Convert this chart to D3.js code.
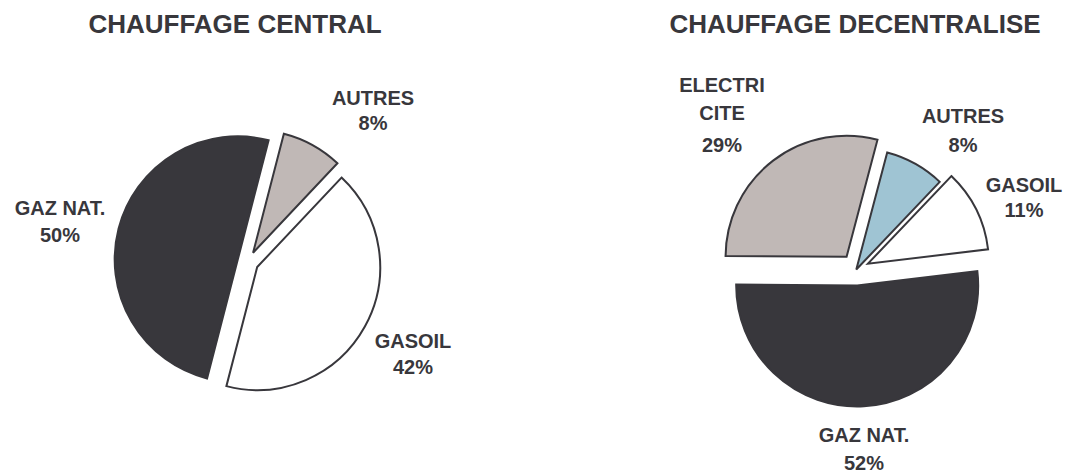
<!DOCTYPE html>
<html>
<head>
<meta charset="utf-8">
<script src="https://cdn.jsdelivr.net/npm/d3@7"></script>
<style>
  html, body { margin: 0; padding: 0; background: #ffffff; }
  svg { display: block; }
  text { font-family: "Liberation Sans", Arial, sans-serif; font-weight: bold; fill: #38373c; }
</style>
</head>
<body>
<svg id="chart" width="1071" height="475"></svg>
<script>
// ---- data ----
const leftTitle = "CHAUFFAGE CENTRAL";
const leftCategories = ["AUTRES", "GASOIL", "GAZ NAT."];
const leftValues = [8, 42, 50];

const rightTitle = "CHAUFFAGE DECENTRALISE";
const rightCategories = ["AUTRES", "GASOIL", "GAZ NAT.", "ELECTRICITE"];
const rightValues = [8, 11, 52, 29];

// label text lines (category names as shown)
const leftLabelLines = [["AUTRES"], ["GASOIL"], ["GAZ NAT."]];
const rightLabelLines = [["AUTRES"], ["GASOIL"], ["GAZ NAT."], ["ELECTRI", "CITE"]];

// ---- layout / style ----
const dark = "#38373c";
const charts = [
  {
    title: leftTitle, titleX: 235, titleY: 33,
    categories: leftCategories, values: leftValues, lines: leftLabelLines,
    cx: 248, cy: 262, r: 123, start: 14.5,
    explode: [10.5, 10.5, 10.5],
    colors: ["#c0b8b6", "#ffffff", dark],
    labels: [
      { x: 373, ys: [105, 130] },
      { x: 413, ys: [348, 374] },
      { x: 60,  ys: [215, 242] }
    ]
  },
  {
    title: rightTitle, titleX: 855, titleY: 33,
    categories: rightCategories, values: rightValues, lines: rightLabelLines,
    cx: 856.3, cy: 269.5, r: 121, start: 14.8,
    explode: [0, 13, 16, 16],
    colors: ["#9fc4d3", "#ffffff", dark, "#c0b8b6"],
    labels: [
      { x: 963, ys: [123, 151.5] },
      { x: 1024, ys: [191.5, 216.5] },
      { x: 864, ys: [441.5, 470] },
      { x: 722, ys: [91.5, 120, 151.5] }
    ]
  }
];

const svg = d3.select("#chart");
const deg = Math.PI / 180;

charts.forEach(cfg => {
  svg.append("text")
    .attr("x", cfg.titleX).attr("y", cfg.titleY)
    .attr("text-anchor", "middle")
    .style("font-size", "26px")
    .text(cfg.title);

  const items = cfg.categories.map((c, i) => ({ cat: c, value: cfg.values[i], i }));
  const pie = d3.pie().sort(null).value(d => d.value)
    .startAngle(cfg.start * deg).endAngle(cfg.start * deg + 2 * Math.PI);
  const arc = d3.arc().innerRadius(0).outerRadius(cfg.r);
  const arcs = pie(items);

  const g = svg.append("g").attr("transform", `translate(${cfg.cx},${cfg.cy})`);
  g.selectAll("path").data(arcs).enter().append("path")
    .attr("d", arc)
    .attr("transform", d => {
      const mid = (d.startAngle + d.endAngle) / 2;
      const e = cfg.explode[d.data.i];
      return `translate(${e * Math.sin(mid)},${-e * Math.cos(mid)})`;
    })
    .attr("fill", d => cfg.colors[d.data.i])
    .attr("stroke", dark)
    .attr("stroke-width", 2)
    .attr("stroke-linejoin", "miter");

  arcs.forEach(d => {
    const lab = cfg.labels[d.data.i];
    const lines = cfg.lines[d.data.i].concat([d.data.value + "%"]);
    lines.forEach((t, k) => {
      svg.append("text")
        .attr("x", lab.x).attr("y", lab.ys[k])
        .attr("text-anchor", "middle")
        .style("font-size", "20px")
        .text(t);
    });
  });
});
</script>
</body>
</html>
